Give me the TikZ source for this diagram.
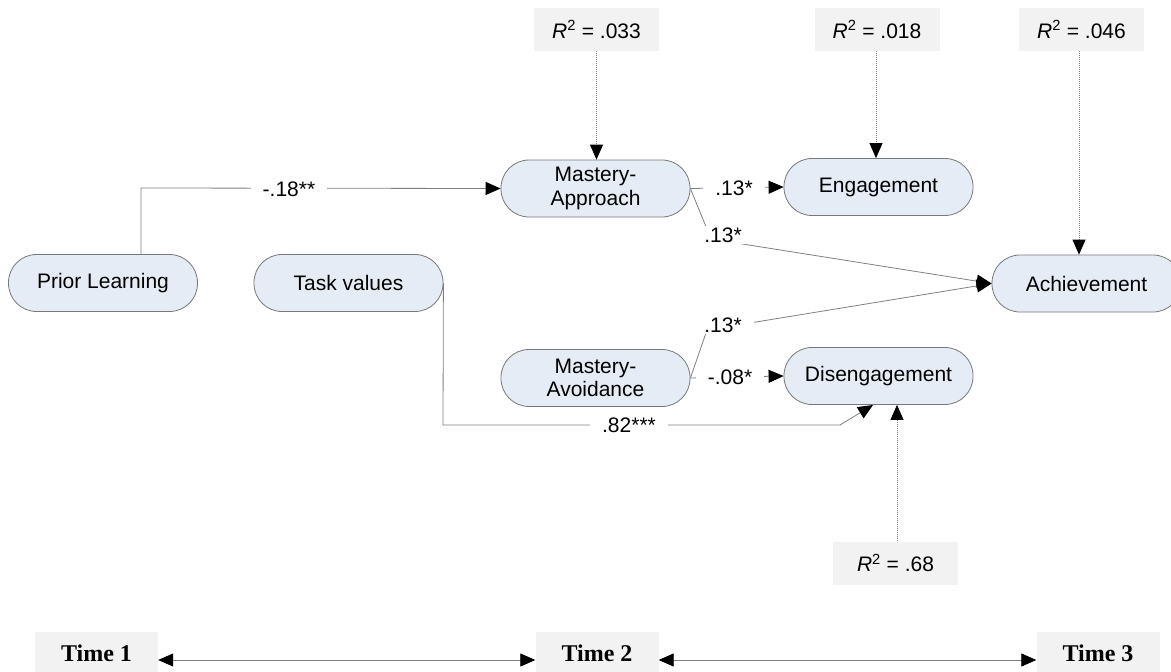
\documentclass[tikz,border=0pt]{standalone}
\usepackage{fontspec}
\setmainfont{Liberation Sans}
\newfontfamily\timefont{Liberation Serif}
\usetikzlibrary{arrows.meta,calc}
\definecolor{nodefill}{RGB}{230,236,246}
\definecolor{nodeline}{RGB}{120,120,120}
\definecolor{boxfill}{RGB}{242,242,242}
\definecolor{linegray}{RGB}{128,128,128}
\begin{document}
\begin{tikzpicture}[x=1pt,y=-1pt,
  var/.style={draw=nodeline,fill=nodefill,rounded corners=28pt,minimum width=189pt,minimum height=57pt,inner sep=0pt,align=center,font=\fontsize{21}{23.5}\selectfont,line width=0.8pt},
  rsq/.style={fill=boxfill,minimum width=125pt,minimum height=43pt,inner sep=0pt,font=\fontsize{21}{23}\selectfont},
  tbox/.style={fill=boxfill,minimum width=123pt,minimum height=42pt,inner sep=0pt,font=\timefont\bfseries\fontsize{24}{26}\selectfont},
  conn/.style={draw=linegray,line width=0.8pt,-{Triangle[length=15pt,width=13pt,color=black]}},
  dotconn/.style={conn,dash pattern=on 1pt off 1pt},
  twoway/.style={draw=linegray,line width=0.8pt,{Triangle[length=15pt,width=13pt,color=black]}-{Triangle[length=15pt,width=13pt,color=black]}},
  lbl/.style={fill=white,inner xsep=12pt,inner ysep=2pt,font=\fontsize{21}{23}\selectfont}
]
\useasboundingbox (0,0) rectangle (1171,672);

% variables
\node[var] (pl)  at (103,283)    {Prior Learning};
\node[var] (tv)  at (348.5,283)  {Task values};
\node[var] (ma)  at (595.5,188.5){Mastery-\\Approach};
\node[var] (eng) at (878.5,187)  {Engagement};
\node[var] (ach) at (1086.5,283.5){Achievement};
\node[var] (mav) at (595.5,378)  {Mastery-\\Avoidance};
\node[var] (dis) at (878.5,376)  {Disengagement};

% R^2 boxes
\node[rsq] (r1) at (596.5,29.5) {\textit{R}\textsuperscript{2} = .033};
\node[rsq] (r2) at (877,29.5)   {\textit{R}\textsuperscript{2} = .018};
\node[rsq] (r3) at (1081.5,29.5){\textit{R}\textsuperscript{2} = .046};
\node[rsq] (r4) at (895.5,563)  {\textit{R}\textsuperscript{2} = .68};

% time boxes
\node[tbox] (t1) at (96.5,653) {Time 1};
\node[tbox] (t2) at (597,653)  {Time 2};
\node[tbox] (t3) at (1098,653) {Time 3};

% helper coordinates
\coordinate (plup) at (141,188);
\coordinate (bendA) at (711,239);
\coordinate (bendB) at (707,330);
\coordinate (tvdown) at (443,425);
\coordinate (tvkink) at (840,425);
\coordinate (distip) at (873,405);

% paths
\draw[conn] (pl.north -| plup) -- (plup) -- (ma.west);
\draw[conn] (ma.east) -- (eng.west);
\draw[conn] (ma.east) -- (bendA) -- (ach.west);
\draw[conn] (mav.east) -- (bendB) -- (ach.west);
\draw[conn] (mav.east) -- (dis.west);
\draw[conn] (tv.east) -- (tvdown) -- (tvkink) -- (distip);

\draw[dotconn] (r1.south) -- (r1.south |- ma.north);
\draw[dotconn] (r2.south -| 876,0) -- (eng.north -| 876,0);
\draw[dotconn] (r3.south -| 1079,0) -- (ach.north -| 1079,0);
\draw[dotconn] (r4.north -| 897,0) -- (dis.south -| 897,0);

\draw[twoway] ([yshift=-7pt]t1.east) -- ([yshift=-7pt]t2.west);
\draw[twoway] ([yshift=-7pt]t2.east) -- ([yshift=-7pt]t3.west);

% coefficient labels
\node[lbl] (l1) at (289,189) {-.18**};
\node[lbl] (l2) at (734,188) {.13*};
\node[lbl] (l3) at (723,235) {.13*};
\node[lbl] (l4) at (723,325) {.13*};
\node[lbl] (l5) at (730,377) {-.08*};
\node[lbl] (l6) at (629,425) {.82***};
\end{tikzpicture}
\end{document}
